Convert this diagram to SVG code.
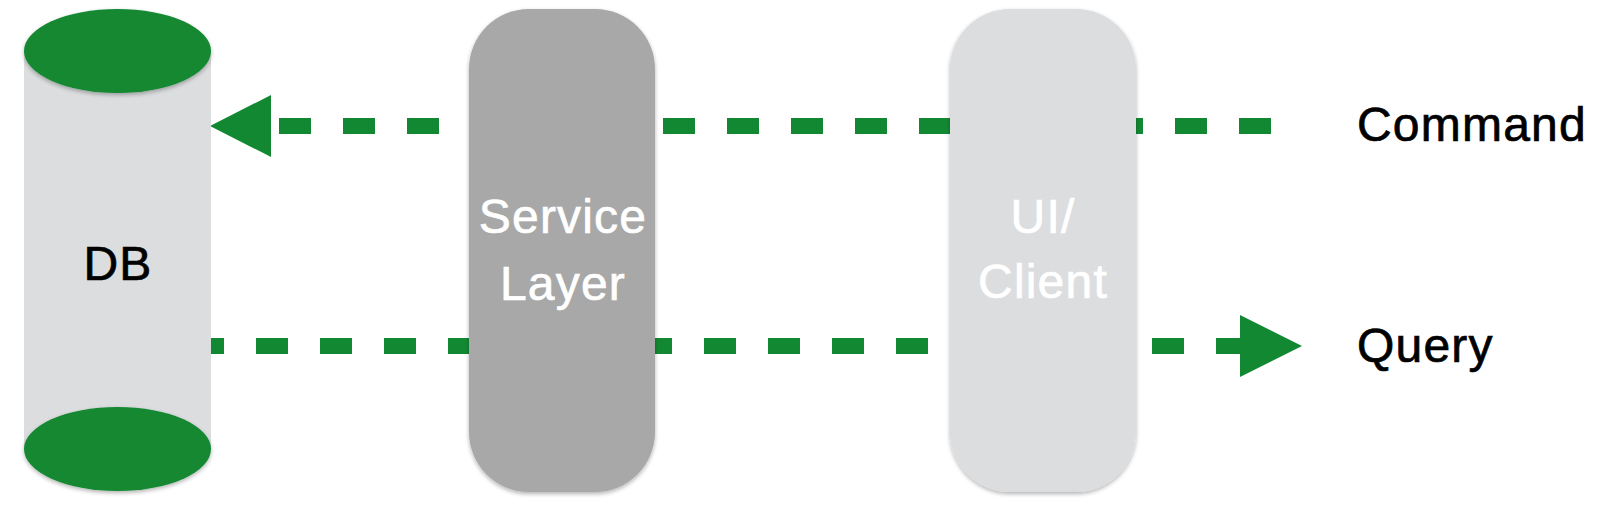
<svg xmlns="http://www.w3.org/2000/svg" width="1624" height="506" viewBox="0 0 1624 506">
<defs>
<style>
.lbl{font-family:"Liberation Sans",Arial,sans-serif;font-size:48px;text-anchor:middle;letter-spacing:1.2px;stroke-width:0.7px}
.blk{fill:#000000;stroke:#000000}
.wht{fill:#ffffff;stroke:#ffffff}
.dash{stroke:#138833;stroke-width:16;stroke-dasharray:32 32;fill:none}
.head{fill:#138833}
</style>
<filter id="sh" x="-10%" y="-10%" width="120%" height="120%">
<feGaussianBlur in="SourceAlpha" stdDeviation="2"/>
<feOffset dy="2"/>
<feComponentTransfer><feFuncA type="linear" slope="0.3"/></feComponentTransfer>
<feMerge><feMergeNode/><feMergeNode in="SourceGraphic"/></feMerge>
</filter>
</defs>
<rect width="1624" height="506" fill="#ffffff"/>
<g id="connectors">
<path class="dash" d="M1271 126 H271"/>
<polygon class="head" points="210,126 271,95 271,157"/>
<path class="dash" d="M192 346 H1240"/>
<polygon class="head" points="1302,346 1240,315 1240,377"/>
</g>
<g id="db">
<rect x="24" y="51" width="187" height="398" fill="#dcdddf"/>
<ellipse cx="117.5" cy="449" rx="93.5" ry="42" fill="#138833" filter="url(#sh)"/>
<ellipse cx="117.5" cy="51" rx="93.5" ry="42" fill="#138833" filter="url(#sh)"/>
<text class="lbl blk" x="118" y="280">DB</text>
</g>
<g id="service">
<rect x="469" y="9" width="186" height="483" rx="60" ry="60" fill="#a7a8a7" filter="url(#sh)"/>
<text class="lbl wht" x="563" y="233">Service</text>
<text class="lbl wht" x="563" y="300">Layer</text>
</g>
<g id="client">
<rect x="950" y="9" width="186" height="483" rx="60" ry="60" fill="#dcdddf" filter="url(#sh)"/>
<text class="lbl wht" x="1043" y="233">UI/</text>
<text class="lbl wht" x="1043" y="298">Client</text>
</g>
<g id="labels">
<text class="lbl blk" x="1357" y="141" style="text-anchor:start">Command</text>
<text class="lbl blk" x="1357" y="362" style="text-anchor:start">Query</text>
</g>
</svg>
